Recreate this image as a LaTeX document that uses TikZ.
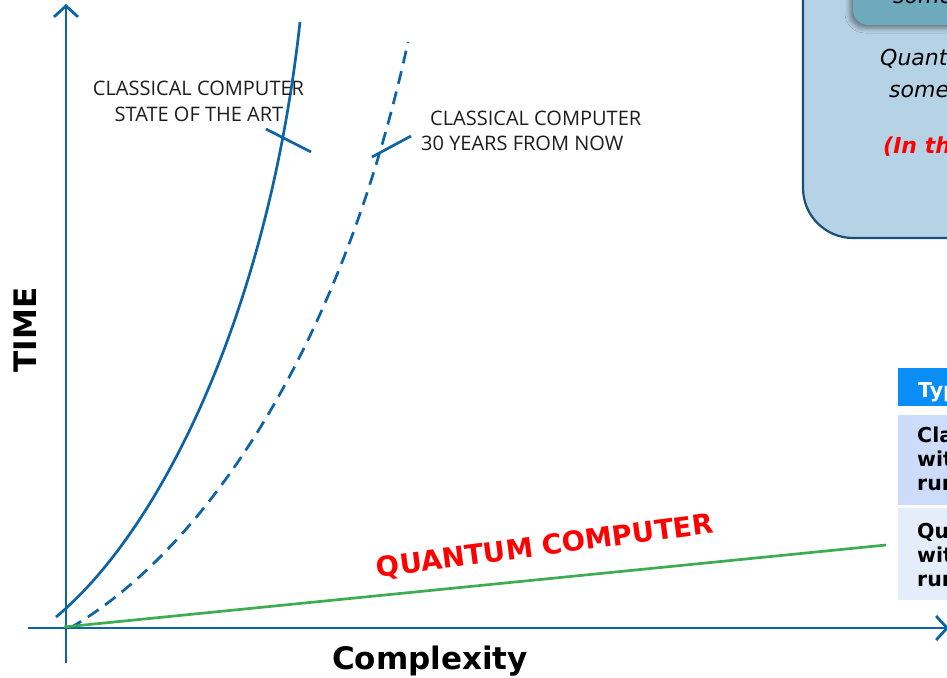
\documentclass[tikz,border=0pt]{standalone}
\usepackage{fontspec}
\setmainfont{Open Sans}
\newfontfamily\verd{DejaVu Sans}
\usetikzlibrary{arrows.meta,shadows.blur}

\definecolor{axisblue}{RGB}{12,100,166}
\definecolor{qgreen}{RGB}{62,172,80}
\definecolor{qred}{RGB}{255,0,0}
\definecolor{panelfill}{RGB}{182,211,229}
\definecolor{paneledge}{RGB}{24,78,122}
\definecolor{tealbox}{RGB}{111,170,188}
\definecolor{hdrblue}{RGB}{10,142,245}
\definecolor{rowa}{RGB}{204,220,250}
\definecolor{rowb}{RGB}{230,237,250}
\definecolor{labelgray}{RGB}{30,30,30}

\begin{document}
\begin{tikzpicture}[x=1pt,y=-1pt,
  axisline/.style={draw=axisblue,line width=2.8pt,
    -{Straight Barb[length=11pt,width=24pt]}},
  curve/.style={draw=axisblue,line width=2.7pt},
  dashedcurve/.style={curve,dash pattern=on 13pt off 8pt},
  tickmark/.style={draw=axisblue,line width=2.7pt},
  lbl/.style={font=\fontsize{20}{24}\selectfont,text=labelgray,inner sep=0pt},
  axislabel/.style={font=\verd\bfseries\fontsize{31}{36}\selectfont,inner sep=0pt},
  paneltext/.style={font=\verd\itshape\fontsize{22}{26}\selectfont,inner sep=0pt,anchor=base west},
  celltext/.style={font=\verd\bfseries\fontsize{20.5}{24}\selectfont,inner sep=0pt,anchor=base west},
]
\useasboundingbox (0,0) rectangle (947,677);
\clip (0,0) rectangle (947,677);

% ---- explanation panel (upper right) ----
\draw[fill=panelfill,draw=paneledge,line width=2.2pt,rounded corners=50pt]
  (803,-120) rectangle (1150,238);
\fill[tealbox,rounded corners=15pt,
  blur shadow={shadow xshift=-3pt,shadow yshift=-3pt,shadow blur radius=5pt,shadow opacity=45}]
  (853,-60) rectangle (1150,25);
\node[paneltext] (pSome) at (893,4) {some problems};
\node[paneltext] (pQuant) at (880,66) {Quantum computers solve};
\node[paneltext] (pSome2) at (889,97) {some problems faster};
\node[paneltext,font=\verd\bfseries\itshape\fontsize{22}{26}\selectfont,text=qred]
  (pTheory) at (883,153) {(In theory)};

% ---- comparison table (right edge) ----
\fill[hdrblue] (898,368) rectangle (1100,406);
\fill[rowa] (898,415) rectangle (1100,505);
\fill[rowb] (898,508) rectangle (1100,600);
\node[celltext,text=white] (hType) at (918,397) {Type of computer};
\node[celltext] (cA1) at (917,442) {Classical computer};
\node[celltext] (cA2) at (917,466) {with n bits};
\node[celltext] (cA3) at (917,490) {running time};
\node[celltext] (cB1) at (917,538) {Quantum computer};
\node[celltext] (cB2) at (917,562) {with n qubits};
\node[celltext] (cB3) at (917,586) {running time};

% ---- axes ----
\coordinate (yBot) at (66,663);
\coordinate (yTop) at (66,4);
\coordinate (xLeft) at (28,628);
\coordinate (xRight) at (949,628);
\draw[axisline] (yBot) -- (yTop);
\draw[axisline] (xLeft) -- (xRight);
\node[axislabel,rotate=90] (time) at (25,330) {TIME};
\node[axislabel,anchor=base] (cplx) at (430,669) {Complexity};

% ---- growth curves ----
\coordinate (cS0) at (56,617);
\coordinate (cS1) at (300,22);
\draw[curve] (cS0) .. controls (156,534) and (267,322) .. (cS1);
\coordinate (cD0) at (70,628);
\coordinate (cD1) at (408,42);
\draw[dashedcurve] (cD0) .. controls (200,553) and (340,355) .. (cD1);

\coordinate (tA0) at (266,129);
\coordinate (tA1) at (311,152);
\draw[tickmark] (tA0) -- (tA1);
\coordinate (tB0) at (372,157);
\coordinate (tB1) at (411,136);
\draw[tickmark] (tB0) -- (tB1);

\coordinate (gA) at (64,627);
\coordinate (gB) at (886,545);
\draw[qgreen,line width=2.7pt] (gA) -- (gB);

% ---- curve labels ----
\node[lbl,anchor=base] (artA) at (198.5,95) {CLASSICAL COMPUTER};
\node[lbl,anchor=base] (artB) at (199,121) {STATE OF THE ART};
\node[lbl,anchor=base west] (futA) at (430,125) {CLASSICAL COMPUTER};
\node[lbl,anchor=base west] (futB) at (421,150) {30 YEARS FROM NOW};
\node[font=\verd\bfseries\fontsize{27.5}{32}\selectfont,text=qred,rotate=7.5,inner sep=0pt]
  (qlabel) at (545,547) {QUANTUM COMPUTER};
\end{tikzpicture}
\end{document}
